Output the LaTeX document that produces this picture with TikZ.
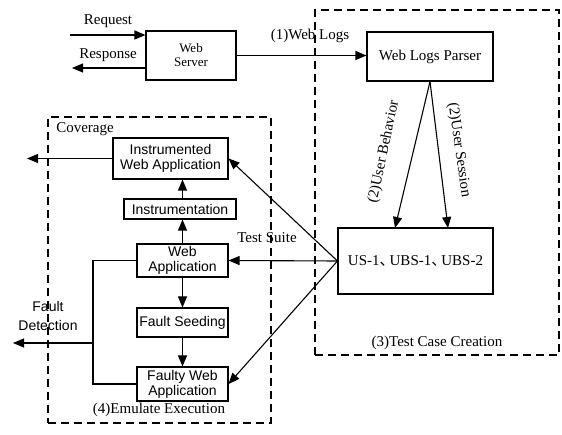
\documentclass[tikz,border=0pt]{standalone}
\usepackage{fontspec}
\setmainfont{Liberation Serif}
\newfontfamily\sansf{Liberation Sans}
\newfontfamily\cjk{Noto Sans CJK SC}
\usetikzlibrary{arrows.meta}
\newcommand{\dunhao}{{\cjk 、}\kern-5pt}
\begin{document}
\begin{tikzpicture}[x=1pt,y=-1pt,
 box/.style={draw,line width=1.1pt,inner sep=0pt,align=center},
 sbox/.style={box,font=\sansf\fontsize{14}{15}\selectfont},
 lbl/.style={font=\fontsize{15}{17}\selectfont,inner sep=0pt},
 arr/.style={line width=1.1pt,-{Triangle[length=11pt,width=9pt]}},
 ln/.style={line width=1.1pt},
 dbox/.style={draw,line width=1.2pt,dash pattern=on 8pt off 5pt,inner sep=0pt}]
\useasboundingbox (0,0) rectangle (562,435);
% dashed regions
\node[dbox,minimum width=244pt,minimum height=345pt] (tcc) at (437,182.5) {};
\node[dbox,minimum width=223pt,minimum height=306pt] (emu) at (159.5,270) {};
% boxes
\node[box,font=\fontsize{13}{14}\selectfont,minimum width=90pt,minimum height=49pt] (ws) at (191,55.5) {Web\\Server};
\node[box,font=\fontsize{15}{17}\selectfont,minimum width=126pt,minimum height=49pt] (wlp) at (430,56.5) {Web Logs Parser};
\node[box,font=\fontsize{15}{17}\selectfont,minimum width=155pt,minimum height=66pt] (us) at (415.5,261) {US-1\dunhao UBS-1\dunhao UBS-2};
\node[sbox,minimum width=115pt,minimum height=41pt] (inst) at (170.5,158.5) {Instrumented\\Web Application};
\node[sbox,minimum width=112pt,minimum height=20pt] (instr) at (180,209) {Instrumentation};
\node[sbox,minimum width=91pt,minimum height=33pt] (wa) at (182.5,260.5) {Web\\Application};
\node[sbox,minimum width=91pt,minimum height=29pt] (fs) at (182.5,322.5) {Fault Seeding};
\node[sbox,minimum width=91pt,minimum height=34pt] (fwa) at (182.5,384) {Faulty Web\\Application};
% request / response
\coordinate (reqs) at (70,35);
\coordinate (rese) at (72,68);
\draw[arr] (reqs) -- (ws.west |- reqs);
\draw[arr] (ws.west |- rese) -- (rese);
\node[lbl] (reql) at (108,21) {Request};
\node[lbl] (resl) at (108,55) {Response};
% web logs
\draw[arr] (ws.east) -- (wlp.west |- ws.east);
\node[lbl] (wll) at (310,36) {(1)Web Logs};
% parser to test cases
\coordinate (ube) at (395,228);
\coordinate (use) at (448,228);
\draw[arr] (wlp.south) -- (ube);
\draw[arr] (wlp.south) -- (use);
\node[lbl,rotate=78] (ubl) at (384,152) {(2)User Behavior};
\node[lbl,rotate=-82] (usl) at (459,150) {(2)User Session};
% test suite
\draw[arr] (us.west) -- (inst.east);
\draw[arr] (us.west) -- (wa.east);
\draw[arr] (us.west) -- (fwa.east);
\node[lbl] (tsl) at (267,238) {Test Suite};
% coverage
\coordinate (cov) at (27,158.5);
\draw[arr] (inst.west) -- (cov);
\node[lbl] (covl) at (85,129) {Coverage};
% vertical flow
\draw[arr] (wa.north) -- (instr.south -| wa.north);
\draw[arr] (instr.north -| wa.north) -- (inst.south -| wa.north);
\draw[arr] (wa.south) -- (fs.north);
\draw[arr] (fs.south) -- (fwa.north);
% fault detection bracket
\coordinate (bt) at (93,260.5);
\coordinate (bb) at (93,384);
\coordinate (fd) at (13,343);
\draw[ln] (wa.west) -- (bt) -- (bb) -- (fwa.west);
\draw[arr] (bt |- fd) -- (fd);
\node[font=\sansf\fontsize{14}{19}\selectfont,align=center,inner sep=0pt] (fdl) at (48,316) {Fault\\Detection};
% region labels
\node[lbl] (tccl) at (437,343) {(3)Test Case Creation};
\node[lbl] (emul) at (159,410) {(4)Emulate Execution};
\end{tikzpicture}
\end{document}
